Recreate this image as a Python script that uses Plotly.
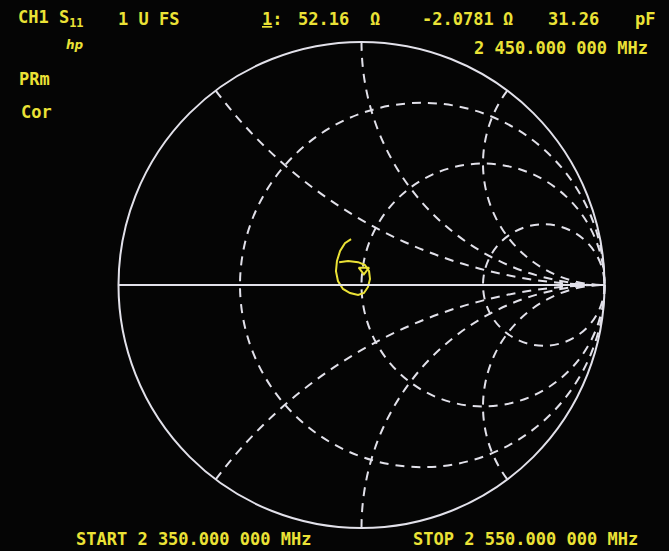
import plotly.graph_objects as go

# grid values of the analyzer's Smith graticule (normalized to 50 ohm)
r_grid = [1/3, 1, 3]
x_grid = [-2, -1, -0.5, 0.5, 1, 2]

# S11 trace, normalized impedance
trace_r = [0.857, 0.825, 0.808, 0.802, 0.805, 0.823, 0.858, 0.908, 0.969,
           1.018, 1.055, 1.071, 1.057, 1.015, 0.956, 0.879, 0.818]
trace_x = [0.336, 0.294, 0.233, 0.162, 0.093, 0.027, -0.028, -0.060, -0.080,
           -0.067, -0.017, 0.054, 0.121, 0.168, 0.181, 0.176, 0.156]

# marker 1
marker_r = [1.012]
marker_x = [0.126]

W, H = 669, 551
YEL = '#ebe236'
GRID = '#e2e1ea'
BG = '#050505'

fig = go.Figure()
fig.add_trace(go.Scattersmith(real=trace_r, imag=trace_x, mode='lines',
                              line={'color': YEL, 'width': 2}))
fig.add_trace(go.Scattersmith(real=marker_r, imag=marker_x, mode='markers',
                              marker={'symbol': 'triangle-down-open', 'size': 9,
                                      'color': YEL, 'line': {'width': 2}}))

axis_common = dict(showticklabels=False, ticks='', gridcolor=GRID, gridwidth=2.2,
                   griddash='9px,7px', showline=True, linecolor=GRID, linewidth=2)
fig.update_layout(
    smith=dict(domain={'x': [118 / W, 605 / W], 'y': [1 - 528 / H, 1 - 42 / H]},
               bgcolor=BG,
               realaxis=dict(tickvals=r_grid, **axis_common),
               imaginaryaxis=dict(tickvals=x_grid, **axis_common)),
    width=W, height=H, showlegend=False,
    paper_bgcolor=BG, plot_bgcolor=BG,
    margin={'l': 0, 'r': 0, 't': 0, 'b': 0},
)


def label(txt, px, py, size=17):
    fig.add_annotation(text='<b>' + txt + '</b>', x=px / W, y=1 - py / H,
                       xref='paper', yref='paper', xanchor='left', yanchor='middle',
                       showarrow=False,
                       font={'family': 'DejaVu Sans Mono', 'size': size, 'color': YEL})


label('CH1 S<sub>11</sub>', 16, 19)
label('1 U FS', 116, 19)
label('<u>1</u>:', 260, 19)
label('52.16', 296, 19)
label('Ω', 368, 19)
label('-2.0781', 420, 19)
label('Ω', 501, 19)
label('31.26', 546, 19)
label('pF', 633, 19)
fig.add_annotation(text='<i><b>hp</b></i>', x=64 / W, y=1 - 45 / H, xref='paper', yref='paper',
                   xanchor='left', yanchor='middle', showarrow=False,
                   font={'family': 'DejaVu Sans', 'size': 12, 'color': YEL})
label('2 450.000 000 MHz', 472, 48)
label('PRm', 17, 79)
label('Cor', 19, 112)
label('START 2 350.000 000 MHz', 74, 539)
label('STOP 2 550.000 000 MHz', 411, 539)

fig.write_html('out.html', config={'displayModeBar': False},
               post_script="document.body.style.margin='0';document.body.style.background='#050505';")
